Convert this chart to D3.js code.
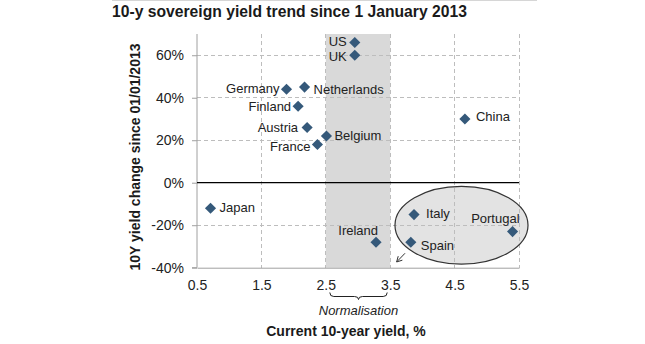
<!DOCTYPE html>
<html><head><meta charset="utf-8">
<script src="https://cdn.jsdelivr.net/npm/d3@7"></script>
<style>
html,body{margin:0;padding:0;background:#fff;}
text{font-family:"Liberation Sans",Arial,sans-serif;}
</style></head>
<body>
<svg id="chart" width="645" height="344"></svg>
<script>
// ---- data ----
const countries = ["US","UK","Germany","Netherlands","Finland","Austria","Belgium","France","China","Japan","Ireland","Italy","Spain","Portugal"];
const currentYield = [2.95,2.95,1.89,2.17,2.07,2.21,2.51,2.37,4.66,0.71,3.28,3.87,3.82,5.40];
const yieldChange = [66,60,44,45,36,26,22,18,30,-12,-28,-15,-28,-23];
const xTicks = [0.5,1.5,2.5,3.5,4.5,5.5];
const yTicks = [-40,-20,0,20,40,60];
const bandRange = [2.5,3.5];
const title = "10-y sovereign yield trend since 1 January 2013";
const xTitle = "Current 10-year yield, %";
const yTitle = "10Y yield change since 01/01/2013";
const bandLabel = "Normalisation";
// ---- layout / style ----
const labelPlacement = {
  US:{a:"end",dx:-8,dy:3.5}, UK:{a:"end",dx:-8,dy:6}, Germany:{a:"end",dx:-7,dy:3.5},
  Netherlands:{a:"start",dx:9,dy:7}, Finland:{a:"end",dx:-7,dy:5}, Austria:{a:"end",dx:-9,dy:5},
  Belgium:{a:"start",dx:8,dy:4}, France:{a:"end",dx:-7,dy:7}, China:{a:"start",dx:11,dy:2.5},
  Japan:{a:"start",dx:9,dy:3.5}, Ireland:{a:"end",dx:2,dy:-7}, Italy:{a:"start",dx:12,dy:3},
  Spain:{a:"start",dx:10,dy:8}, Portugal:{a:"end",dx:7,dy:-9}
};
const ellipse = {cx:4.607, cy:-20, rx:1.033, ry:18.3};
const arrow = {x1:3.73, y1:-33.2, x2:3.60, y2:-37.3};

const svg = d3.select("#chart");
const pLeft=197, pRight=519, pTop=34, pBottom=267.7;
const x = d3.scaleLinear().domain([0.5,5.5]).range([pLeft,pRight]);
const y = d3.scaleLinear().domain([-40,70]).range([pBottom,pTop]);
const diamondColor = "#35597a";
const gridColor = "#bdbdbd";
const textColor = "#222";

// top faint rule
svg.append("line").attr("x1",112).attr("x2",537).attr("y1",0.5).attr("y2",0.5)
  .attr("stroke","#d6d6d6").attr("stroke-width",1);

// title
svg.append("text").attr("x",112).attr("y",17).attr("font-size",15.7).attr("font-weight","bold")
  .attr("fill","#1a1a1a").text(title);

// band
svg.append("rect").attr("x",x(bandRange[0])).attr("width",x(bandRange[1])-x(bandRange[0]))
  .attr("y",pTop).attr("height",pBottom-pTop).attr("fill","#d9d9d9");

// ellipse fill
svg.append("ellipse").attr("cx",x(ellipse.cx)).attr("cy",y(ellipse.cy))
  .attr("rx",x(ellipse.cx+ellipse.rx)-x(ellipse.cx)).attr("ry",y(ellipse.cy-ellipse.ry)-y(ellipse.cy))
  .attr("fill","#e3e3e3");

// grid
const g = svg.append("g");
g.selectAll("line.vg").data(xTicks.slice(1)).join("line")
  .attr("x1",d=>x(d)).attr("x2",d=>x(d)).attr("y1",pTop).attr("y2",pBottom)
  .attr("stroke",gridColor).attr("stroke-dasharray","4,3").attr("shape-rendering","crispEdges");
g.selectAll("line.hg").data(yTicks.filter(d=>d!==0 && d!==-40)).join("line")
  .attr("x1",pLeft).attr("x2",pRight).attr("y1",d=>y(d)).attr("y2",d=>y(d))
  .attr("stroke",gridColor).attr("stroke-dasharray","4,3").attr("shape-rendering","crispEdges");

// axes
const yAxis = svg.append("g").attr("transform",`translate(${pLeft},0)`)
  .call(d3.axisLeft(y).tickValues(yTicks).tickSize(5).tickPadding(8).tickFormat(d=>d+"%"));
yAxis.select(".domain").attr("d",`M-5,${pBottom}H0V${pTop}`).attr("stroke","#a0a0a0");
yAxis.selectAll(".tick line").attr("stroke","#a0a0a0");
yAxis.selectAll("text").attr("font-size",14).attr("fill",textColor).attr("font-family","Liberation Sans, Arial, sans-serif");

const xAxis = svg.append("g").attr("transform",`translate(0,${pBottom})`)
  .call(d3.axisBottom(x).tickValues(xTicks).tickSize(0).tickPadding(12).tickFormat(d3.format(".1f")));
xAxis.select(".domain").attr("stroke","#a0a0a0");
xAxis.selectAll("text").attr("font-size",14).attr("fill",textColor).attr("font-family","Liberation Sans, Arial, sans-serif");

// zero line
svg.append("line").attr("x1",pLeft).attr("x2",pRight).attr("y1",y(0)).attr("y2",y(0))
  .attr("stroke","#000").attr("stroke-width",1.2);

// ellipse outline
svg.append("ellipse").attr("cx",x(ellipse.cx)).attr("cy",y(ellipse.cy))
  .attr("rx",x(ellipse.cx+ellipse.rx)-x(ellipse.cx)).attr("ry",y(ellipse.cy-ellipse.ry)-y(ellipse.cy))
  .attr("fill","none").attr("stroke","#333").attr("stroke-width",1.2);

// arrow
const ax1=x(arrow.x1), ay1=y(arrow.y1), ax2=x(arrow.x2), ay2=y(arrow.y2);
svg.append("line").attr("x1",ax1).attr("y1",ay1).attr("x2",ax2).attr("y2",ay2)
  .attr("stroke","#333").attr("stroke-width",1);
const ang = Math.atan2(ay2-ay1, ax2-ax1);
const hl=6, ha=0.5;
svg.append("path")
  .attr("d",`M${ax2-hl*Math.cos(ang-ha)},${ay2-hl*Math.sin(ang-ha)}L${ax2},${ay2}L${ax2-hl*Math.cos(ang+ha)},${ay2-hl*Math.sin(ang+ha)}`)
  .attr("fill","none").attr("stroke","#333").attr("stroke-width",1);

// points
const pts = countries.map((c,i)=>({c, xv:currentYield[i], yv:yieldChange[i]}));
svg.selectAll("path.pt").data(pts).join("path")
  .attr("d",d3.symbol().type(d3.symbolSquare).size(62))
  .attr("transform",d=>`translate(${x(d.xv)},${y(d.yv)}) rotate(45)`)
  .attr("fill",diamondColor);
svg.selectAll("text.lbl").data(pts).join("text")
  .attr("x",d=>x(d.xv)+labelPlacement[d.c].dx).attr("y",d=>y(d.yv)+labelPlacement[d.c].dy)
  .attr("text-anchor",d=>labelPlacement[d.c].a).attr("font-size",13).attr("fill",textColor)
  .text(d=>d.c);

// brace under band
const bx1=x(bandRange[0])+4, bx2=x(bandRange[1])-3, bm=(bx1+bx2)/2, by=292.5;
svg.append("path")
  .attr("d",`M${bx1},${by} Q${bx1},${by+4} ${bx1+4},${by+4} L${bm-4},${by+4} Q${bm},${by+4} ${bm},${by+7} Q${bm},${by+4} ${bm+4},${by+4} L${bx2-4},${by+4} Q${bx2},${by+4} ${bx2},${by}`)
  .attr("fill","none").attr("stroke","#222").attr("stroke-width",1);
svg.append("text").attr("x",bm).attr("y",315).attr("text-anchor","middle")
  .attr("font-size",13).attr("font-style","italic").attr("fill",textColor).text(bandLabel);

// axis titles
svg.append("text").attr("x",346).attr("y",336).attr("text-anchor","middle")
  .attr("font-size",14).attr("font-weight","bold").attr("fill","#1a1a1a").text(xTitle);
svg.append("text").attr("transform","translate(140,157) rotate(-90)").attr("text-anchor","middle")
  .attr("font-size",14).attr("font-weight","bold").attr("fill","#1a1a1a").text(yTitle);
</script>
</body></html>
